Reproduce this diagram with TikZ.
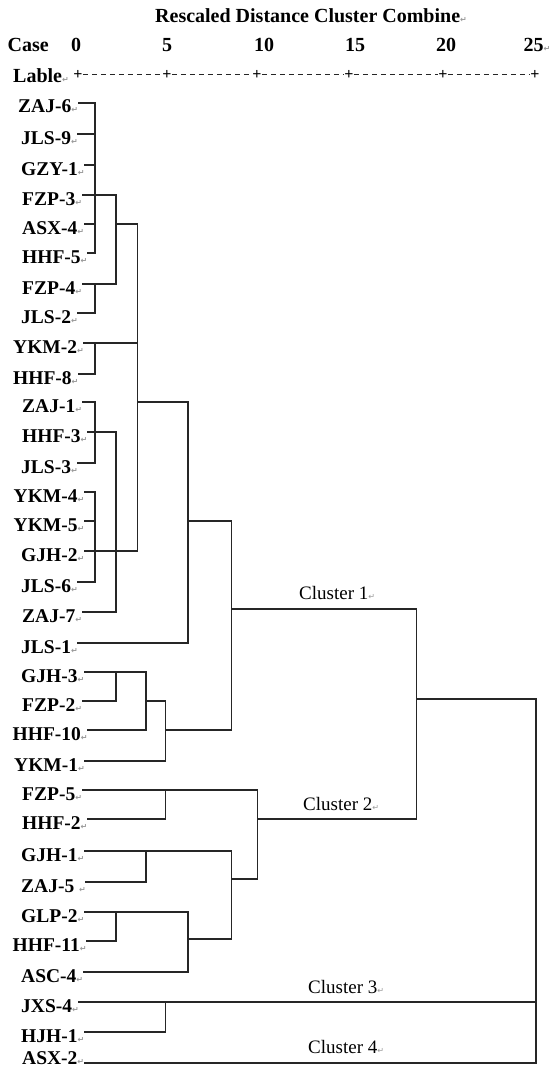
\documentclass[tikz,border=0pt]{standalone}
\usepackage{fontspec}
\setmainfont{Liberation Serif}
\newfontfamily\markfont{DejaVu Sans}
% paragraph mark that trails every text
\newcommand\retmark{{\markfont\fontsize{8}{8}\selectfont\color{black!40}↵}}
\begin{document}
\begin{tikzpicture}[x=1pt,y=-1pt,
  leaf/.style={font=\fontsize{19.5}{20}\selectfont\bfseries, anchor=base west,
               inner sep=0pt, text height=20pt, text depth=0pt},
  head/.style={font=\fontsize{20}{22}\selectfont\bfseries, inner sep=0pt},
  clab/.style={font=\fontsize{19}{20}\selectfont, anchor=base west, inner sep=0pt},
  tree/.style={line width=1.3pt, draw=black!85, line cap=rect},
  plus/.style={font=\fontsize{16}{16}\selectfont\bfseries, inner sep=0pt},
  scale line/.style={line width=1pt, draw=black!85, dash pattern=on 5pt off 4pt}]
\useasboundingbox[fill=white] (0,0) rectangle (557,1070);

% ---- header ----
\node[head, anchor=base west] (title) at (155,23) {Rescaled Distance Cluster Combine\retmark};
\node[head, anchor=base west] (case) at (7.5,52) {Case};
\foreach \v/\x in {0/76,5/167,10/264,15/355,20/446}
  \node[head, anchor=base] (num\v) at (\x,52) {\v};
\node[head, anchor=base west] (num25) at (523.5,52) {25\retmark};
\node[head, anchor=base west] (lable) at (13,83) {Lable\retmark};

% ---- distance scale ----
\foreach \k/\x in {0/78,1/167,2/257,3/349,4/443,5/535}
  \node[plus] (p\k) at (\x,75) {+};
\foreach \k [evaluate=\k as \m using int(\k+1)] in {0,...,4}
  \draw[scale line] (p\k.east) -- (p\m.west);

% ---- case labels ----
\foreach \i/\yy/\xx/\t in {
  0/103/18/ZAJ-6, 1/134/21/JLS-9, 2/165/21/GZY-1, 3/195/22/FZP-3,
  4/224/22/ASX-4, 5/253/22/HHF-5, 6/284/22/FZP-4, 7/313/21/JLS-2,
  8/343/13/YKM-2, 9/374/13/HHF-8, 10/402/22/ZAJ-1, 11/432/22/HHF-3,
  12/463/21/JLS-3, 13/492/13.5/YKM-4, 14/521/13.5/YKM-5, 15/551/21/GJH-2,
  16/582/21/JLS-6, 17/612/22/ZAJ-7, 18/643/21/JLS-1, 19/672/21/GJH-3,
  20/701/22/FZP-2, 21/730/12.5/HHF-10, 22/761/14/YKM-1, 23/790/22/FZP-5,
  24/819/22/HHF-2, 25/851/21/GJH-1, 26/882/21/{ZAJ-5\ }, 27/912/21/GLP-2,
  28/941/12.5/HHF-11, 29/972/21/ASC-4, 30/1002/21/JXS-4, 31/1032/21/HJH-1}
  \node[leaf] (n\i) at (\xx,\yy+10) {\t\retmark};
% last case sits on the lower edge: a short box keeps its line at 1063
\node[leaf, text height=2pt] (n32) at (22,1064) {ASX-2\retmark};

% ---- merge levels ----
\coordinate (xa) at (95,0);
\coordinate (xb) at (116,0);
\coordinate (xc) at (137.3,0);
\coordinate (xd) at (146,0);
\coordinate (xe) at (165.5,0);
\coordinate (xf) at (188,0);
\coordinate (xg) at (231.7,0);
\coordinate (xh) at (257.7,0);
\coordinate (xi) at (416.7,0);
\coordinate (xj) at (536,0);

% junctions that sit between rows
\coordinate (k1) at (231.7,609);  \coordinate (k1r) at (416.7,609);
\coordinate (k2) at (416.7,699);  \coordinate (k2r) at (536,699);
\coordinate (k3) at (231.7,879);  \coordinate (k3r) at (257.7,879);
\coordinate (k4) at (188,939);    \coordinate (k4r) at (231.7,939);

% ---- dendrogram ----
% lines leaving each case
\foreach \i/\lv in {0/xa,1/xa,2/xa,3/xb,4/xa,5/xa,6/xb,7/xa,8/xc,9/xa,
  10/xa,11/xb,12/xa,13/xa,14/xa,15/xc,16/xa,17/xb,18/xf,19/xd,20/xb,
  21/xd,22/xe,23/xh,24/xe,25/xg,26/xd,27/xf,28/xb,29/xf,30/xj,31/xe,32/xj}
  \draw[tree] (n\i.east) -- (n\i.east -| \lv);
% links from one level to the next on a case row
\foreach \i/\u/\v in {4/xb/xc,10/xc/xf,14/xf/xg,20/xd/xe,21/xe/xg,24/xh/xi}
  \draw[tree] (n\i.east -| \u) -- (n\i.east -| \v);
% vertical joins between case rows
\foreach \lv/\p/\q in {xa/0/5,xa/6/7,xa/8/9,xa/10/12,xa/13/16,
  xb/3/6,xb/11/17,xb/19/20,xb/27/28,xc/4/15,xd/19/21,xd/25/26,
  xe/20/22,xe/23/24,xe/30/31,xf/10/18,xf/27/29,xg/14/21}
  \draw[tree] (n\p.east -| \lv) -- (n\q.east -| \lv);
% upper joins
\draw[tree] (k1) -- (k1r);
\draw[tree] (k2) -- (k2r);
\draw[tree] (k3) -- (k3r);
\draw[tree] (k4) -- (k4r);
\draw[tree] (n25.east -| xg) -- (k4r);
\draw[tree] (n23.east -| xh) -- (k3r);
\draw[tree] (k1r) -- (n24.east -| xi);
\draw[tree] (k2r) -- (n32.east -| xj);

% ---- cluster names ----
\node[clab] (cl1) at (299,599) {Cluster 1\retmark};
\node[clab] (cl2) at (303,810) {Cluster 2\retmark};
\node[clab] (cl3) at (308,993) {Cluster 3\retmark};
\node[clab] (cl4) at (308,1053) {Cluster 4\retmark};
\end{tikzpicture}
\end{document}
